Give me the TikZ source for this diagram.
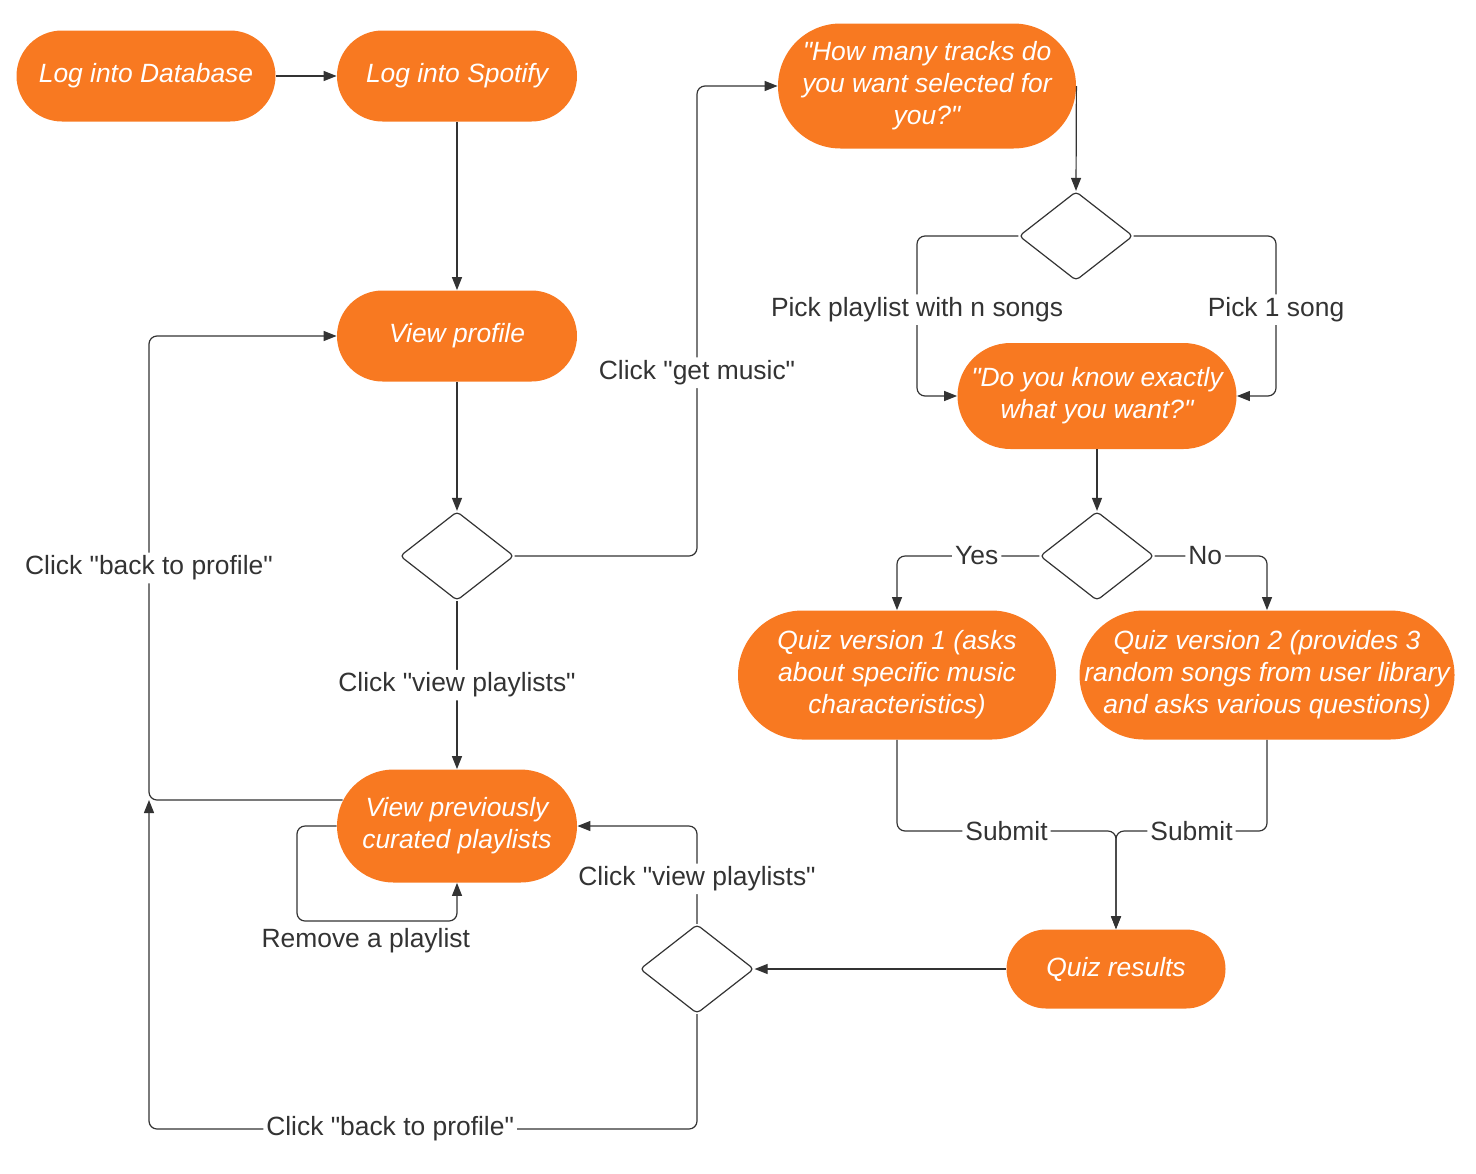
\documentclass[tikz,border=0pt]{standalone}
\usepackage{fontspec}
\setmainfont{Liberation Sans}[Ligatures=TeXOff]
\usetikzlibrary{shapes.geometric,arrows.meta}
\definecolor{spotorange}{RGB}{248,121,33}
\definecolor{linegray}{RGB}{51,51,51}
\tikzset{
  pill/.style 2 args={fill=spotorange, text=white, font=\itshape\fontsize{13.2}{16}\selectfont,
    align=center, inner sep=0pt, minimum width=#1, minimum height=#2, rounded corners=#2/2},
  decision/.style={diamond, draw=linegray, fill=white, line width=0.6pt, minimum width=57pt,
    minimum height=44.5pt, inner sep=0pt, rounded corners=2pt},
  flow/.style={draw=linegray, line width=0.6pt, rounded corners=4pt, -{Triangle[length=6.5pt,width=5pt]}},
  lbl/.style={fill=white, text=linegray, font=\fontsize{13.2}{16}\selectfont, inner sep=1.5pt}
}
\begin{document}
\begin{tikzpicture}[x=0.5pt,y=-0.5pt]
\useasboundingbox (0,0) rectangle (1476,1173);
\node[pill={129.5pt}{45.5pt}] (db) at (146,76) {Log into Database};
\node[pill={120pt}{45.5pt}] (spot) at (457,76) {Log into Spotify};
\node[pill={120pt}{45.5pt}] (prof) at (457,336) {View profile};
\node[decision] (d1) at (457,556) {};
\node[pill={120pt}{56.5pt}] (lists) at (457,826) {View previously\\curated playlists};
\node[decision] (d3) at (697,969) {};
\node[pill={109.5pt}{39.5pt}] (res) at (1116,969) {Quiz results};
\node[pill={149pt}{62.5pt}] (count) at (927,86) {"How many tracks do\\you want selected for\\you?"};
\node[decision] (d2) at (1076,236) {};
\node[pill={139.5pt}{53pt}] (know) at (1097,396) {"Do you know exactly\\what you want?"};
\node[decision] (d4) at (1097,556) {};
\node[pill={159pt}{64.5pt}] (quiz1) at (897,675) {Quiz version 1 (asks\\about specific music\\characteristics)};
\node[pill={187.5pt}{64.5pt}] (quiz2) at (1267,675) {Quiz version 2 (provides 3\\random songs from user library\\and asks various questions)};
\coordinate (back) at (149,800);
\draw[flow] (db) -- (spot);
\draw[flow] (spot) -- (prof);
\draw[flow] (prof) -- (d1);
\draw[flow] (d1) -- node[lbl]{Click "view playlists"} (lists);
\draw[flow] (d1.east) -- (697,556) -- node[lbl,pos=0.39]{Click "get music"} (697,86) -- (count.west);
\draw[flow] (count.east) -- (d2.north);
\draw[flow] (d2.west) -- (917,236) -- node[lbl,pos=0.46]{Pick playlist with n songs} (917,396) -- (know.west);
\draw[flow] (d2.east) -- (1276,236) -- node[lbl,pos=0.46]{Pick 1 song} (1276,396) -- (know.east);
\draw[flow] (know) -- (d4);
\draw[flow] (d4.west) -- node[lbl,pos=0.44]{Yes} (897,556) -- (quiz1.north);
\draw[flow] (d4.east) -- node[lbl,pos=0.45]{No} (1267,556) -- (quiz2.north);
\draw[flow] (quiz1.south) -- (897,831) -- node[lbl]{Submit} (1116,831) -- (res.north);
\draw[flow] (quiz2.south) -- (1267,831) -- node[lbl]{Submit} (1116,831) -- (res.north);
\draw[flow] (res) -- (d3);
\draw[flow] (d3.north) -- node[lbl,pos=0.46]{Click "view playlists"} (697,826) -- (lists.east);
\draw[flow] (lists.west) -- (297,826) -- (297,921) -- node[lbl,below,pos=0.43,yshift=-2pt]{Remove a playlist} (457,921) -- (lists.south);
\draw[flow] ([xshift=3pt]back -| lists.west) -- (back) -- node[lbl]{Click "back to profile"} (149,336) -- (prof.west);
\draw[flow] (d3.south) -- (697,1129) -- node[lbl,pos=0.56]{Click "back to profile"} (149,1129) -- (back);
\end{tikzpicture}
\end{document}
